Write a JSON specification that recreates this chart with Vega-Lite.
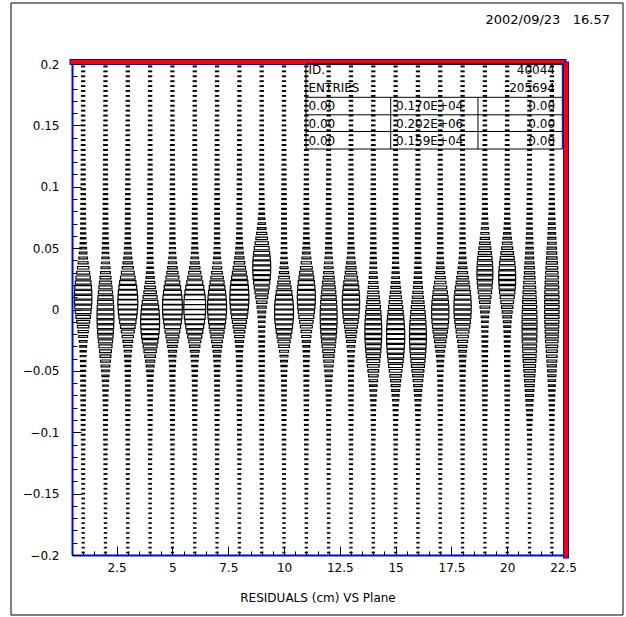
{
  "$schema": "https://vega.github.io/schema/vega-lite/v6.json",
  "width": 491,
  "height": 491,
  "autosize": "none",
  "padding": {"left": 72, "top": 64, "right": 63, "bottom": 62},
  "background": "#ffffff",
  "title": {
    "text": "2002/09/23\u00a0\u00a0\u00a016.57",
    "orient": "top",
    "anchor": "end",
    "frame": "group",
    "dx": 47,
    "offset": -34,
    "baseline": "alphabetic",
    "font": "DejaVu Sans",
    "fontSize": 13,
    "fontWeight": "normal",
    "color": "#000000"
  },
  "config": {
    "view": {"stroke": null},
    "axis": {
      "labelFont": "DejaVu Sans",
      "labelFontSize": 12,
      "labelColor": "#000000",
      "tickColor": "#000000",
      "titleFont": "DejaVu Sans",
      "titleFontSize": 12,
      "titleFontWeight": "normal",
      "titleColor": "#000000",
      "grid": false
    },
    "text": {"font": "DejaVu Sans", "fontSize": 12, "color": "#000000"}
  },
  "datasets": {
    "cells": [
      {"y":-0.198,"1":9,"2":9,"3":9,"4":9,"5":9,"6":9,"7":9,"8":9,"9":9,"10":9,"11":9,"12":9,"13":9,"14":9,"15":9,"16":9,"17":9,"18":9,"19":9,"20":9,"21":9,"22":9},
      {"y":-0.194,"1":9,"2":9,"3":9,"4":9,"5":9,"6":9,"7":9,"8":9,"9":9,"10":9,"11":9,"12":9,"13":9,"14":9,"15":9,"16":9,"17":9,"18":9,"19":9,"20":9,"21":9,"22":9},
      {"y":-0.19,"1":9,"2":9,"3":9,"4":9,"5":9,"6":9,"7":9,"8":9,"9":9,"10":9,"11":9,"12":9,"13":9,"14":9,"15":9,"16":9,"17":9,"18":9,"19":9,"20":9,"21":9,"22":9},
      {"y":-0.186,"1":9,"2":9,"3":9,"4":9,"5":9,"6":9,"7":9,"8":9,"9":9,"10":9,"11":9,"12":9,"13":9,"14":9,"15":9,"16":9,"17":9,"18":9,"19":9,"20":9,"21":9,"22":9},
      {"y":-0.182,"1":10,"2":10,"3":10,"4":10,"5":10,"6":10,"7":10,"8":10,"9":10,"10":10,"11":10,"12":10,"13":10,"14":10,"15":10,"16":10,"17":10,"18":10,"19":10,"20":10,"21":10,"22":10},
      {"y":-0.178,"1":10,"2":10,"3":10,"4":10,"5":10,"6":10,"7":10,"8":10,"9":10,"10":10,"11":10,"12":10,"13":10,"14":10,"15":10,"16":10,"17":10,"18":10,"19":10,"20":10,"21":10,"22":10},
      {"y":-0.174,"1":10,"2":10,"3":10,"4":10,"5":10,"6":10,"7":10,"8":10,"9":10,"10":10,"11":10,"12":10,"13":10,"14":10,"15":10,"16":10,"17":10,"18":10,"19":10,"20":10,"21":10,"22":10},
      {"y":-0.17,"1":11,"2":11,"3":11,"4":11,"5":11,"6":11,"7":11,"8":11,"9":11,"10":11,"11":11,"12":11,"13":11,"14":11,"15":11,"16":11,"17":11,"18":11,"19":11,"20":11,"21":11,"22":11},
      {"y":-0.166,"1":11,"2":11,"3":11,"4":11,"5":11,"6":11,"7":11,"8":11,"9":11,"10":11,"11":11,"12":11,"13":11,"14":11,"15":11,"16":11,"17":11,"18":11,"19":11,"20":11,"21":11,"22":11},
      {"y":-0.162,"1":11,"2":11,"3":11,"4":11,"5":11,"6":11,"7":11,"8":11,"9":11,"10":11,"11":11,"12":11,"13":11,"14":11,"15":11,"16":11,"17":11,"18":11,"19":11,"20":11,"21":11,"22":11},
      {"y":-0.158,"1":12,"2":12,"3":12,"4":12,"5":12,"6":12,"7":12,"8":12,"9":12,"10":12,"11":12,"12":12,"13":12,"14":12,"15":12,"16":12,"17":12,"18":12,"19":12,"20":12,"21":12,"22":12},
      {"y":-0.154,"1":12,"2":12,"3":12,"4":12,"5":12,"6":12,"7":12,"8":12,"9":12,"10":12,"11":12,"12":12,"13":12,"14":12,"15":12,"16":12,"17":12,"18":12,"19":12,"20":12,"21":12,"22":12},
      {"y":-0.15,"1":13,"2":13,"3":13,"4":13,"5":13,"6":13,"7":13,"8":13,"9":13,"10":13,"11":13,"12":13,"13":13,"14":13,"15":13,"16":13,"17":13,"18":13,"19":13,"20":13,"21":13,"22":13},
      {"y":-0.146,"1":14,"2":14,"3":14,"4":14,"5":14,"6":14,"7":14,"8":14,"9":14,"10":14,"11":14,"12":14,"13":14,"14":14,"15":14,"16":14,"17":14,"18":14,"19":14,"20":14,"21":14,"22":14},
      {"y":-0.142,"1":14,"2":14,"3":14,"4":14,"5":14,"6":14,"7":14,"8":14,"9":14,"10":14,"11":14,"12":14,"13":14,"14":14,"15":14,"16":14,"17":14,"18":14,"19":14,"20":14,"21":14,"22":14},
      {"y":-0.138,"1":15,"2":15,"3":15,"4":15,"5":15,"6":15,"7":15,"8":15,"9":15,"10":15,"11":15,"12":15,"13":15,"14":15,"15":15,"16":15,"17":15,"18":15,"19":15,"20":15,"21":15,"22":15},
      {"y":-0.134,"1":16,"2":16,"3":16,"4":16,"5":16,"6":16,"7":16,"8":16,"9":16,"10":16,"11":16,"12":16,"13":16,"14":16,"15":16,"16":16,"17":16,"18":16,"19":16,"20":16,"21":16,"22":16},
      {"y":-0.13,"1":17,"2":17,"3":17,"4":17,"5":17,"6":17,"7":17,"8":17,"9":17,"10":17,"11":17,"12":17,"13":17,"14":17,"15":17,"16":17,"17":17,"18":17,"19":17,"20":17,"21":17,"22":17},
      {"y":-0.126,"1":18,"2":18,"3":18,"4":18,"5":18,"6":18,"7":18,"8":18,"9":18,"10":18,"11":18,"12":18,"13":18,"14":18,"15":18,"16":18,"17":18,"18":18,"19":18,"20":18,"21":18,"22":18},
      {"y":-0.122,"1":19,"2":19,"3":19,"4":19,"5":19,"6":19,"7":19,"8":19,"9":19,"10":19,"11":19,"12":19,"13":19,"14":19,"15":19,"16":19,"17":19,"18":19,"19":19,"20":19,"21":20,"22":19},
      {"y":-0.118,"1":20,"2":20,"3":20,"4":20,"5":20,"6":20,"7":20,"8":20,"9":20,"10":20,"11":20,"12":20,"13":20,"14":20,"15":20,"16":20,"17":20,"18":20,"19":20,"20":20,"21":22,"22":20},
      {"y":-0.114,"1":21,"2":21,"3":21,"4":21,"5":21,"6":21,"7":21,"8":21,"9":21,"10":21,"11":21,"12":21,"13":21,"14":21,"15":21,"16":21,"17":21,"18":21,"19":21,"20":21,"21":24,"22":21},
      {"y":-0.11,"1":23,"2":23,"3":23,"4":23,"5":23,"6":23,"7":23,"8":23,"9":23,"10":23,"11":23,"12":23,"13":23,"14":23,"15":23,"16":23,"17":23,"18":23,"19":23,"20":23,"21":27,"22":23},
      {"y":-0.106,"1":24,"2":24,"3":24,"4":24,"5":24,"6":24,"7":24,"8":24,"9":24,"10":24,"11":24,"12":24,"13":24,"14":24,"15":24,"16":24,"17":24,"18":24,"19":24,"20":24,"21":30,"22":25},
      {"y":-0.102,"1":25,"2":25,"3":25,"4":25,"5":25,"6":25,"7":25,"8":25,"9":25,"10":25,"11":25,"12":25,"13":25,"14":25,"15":26,"16":26,"17":25,"18":25,"19":25,"20":25,"21":34,"22":27},
      {"y":-0.098,"1":27,"2":27,"3":27,"4":27,"5":27,"6":27,"7":27,"8":27,"9":27,"10":27,"11":27,"12":27,"13":27,"14":28,"15":29,"16":28,"17":27,"18":27,"19":27,"20":27,"21":39,"22":30},
      {"y":-0.094,"1":28,"2":28,"3":28,"4":28,"5":28,"6":28,"7":28,"8":28,"9":28,"10":28,"11":28,"12":28,"13":28,"14":29,"15":31,"16":30,"17":28,"18":28,"19":28,"20":28,"21":45,"22":32},
      {"y":-0.09,"1":30,"2":30,"3":30,"4":30,"5":30,"6":30,"7":30,"8":30,"9":30,"10":30,"11":30,"12":30,"13":30,"14":32,"15":35,"16":34,"17":30,"18":30,"19":30,"20":30,"21":53,"22":36},
      {"y":-0.086,"1":32,"2":33,"3":32,"4":32,"5":32,"6":32,"7":32,"8":32,"9":32,"10":32,"11":32,"12":33,"13":32,"14":36,"15":41,"16":39,"17":32,"18":32,"19":32,"20":32,"21":63,"22":40},
      {"y":-0.082,"1":33,"2":34,"3":33,"4":33,"5":33,"6":33,"7":33,"8":33,"9":33,"10":33,"11":33,"12":34,"13":33,"14":40,"15":47,"16":45,"17":33,"18":33,"19":33,"20":33,"21":73,"22":44},
      {"y":-0.078,"1":35,"2":37,"3":35,"4":35,"5":35,"6":35,"7":35,"8":35,"9":35,"10":35,"11":35,"12":37,"13":35,"14":47,"15":58,"16":55,"17":35,"18":35,"19":35,"20":35,"21":87,"22":51},
      {"y":-0.074,"1":39,"2":43,"3":39,"4":39,"5":39,"6":39,"7":39,"8":39,"9":39,"10":39,"11":39,"12":43,"13":39,"14":59,"15":76,"16":70,"17":39,"18":39,"19":39,"20":39,"21":105,"22":60},
      {"y":-0.07,"1":40,"2":47,"3":40,"4":41,"5":40,"6":40,"7":40,"8":40,"9":40,"10":40,"11":40,"12":47,"13":40,"14":71,"15":96,"16":87,"17":40,"18":40,"19":40,"20":40,"21":123,"22":68},
      {"y":-0.066,"1":42,"2":54,"3":42,"4":45,"5":42,"6":42,"7":42,"8":42,"9":42,"10":42,"11":42,"12":54,"13":42,"14":89,"15":123,"16":111,"17":42,"18":42,"19":42,"20":42,"21":145,"22":79},
      {"y":-0.062,"1":44,"2":64,"3":44,"4":50,"5":44,"6":44,"7":44,"8":44,"9":44,"10":45,"11":44,"12":64,"13":44,"14":113,"15":159,"16":141,"17":45,"18":44,"19":44,"20":44,"21":169,"22":92},
      {"y":-0.058,"1":45,"2":76,"3":45,"4":57,"5":46,"6":47,"7":46,"8":45,"9":45,"10":48,"11":45,"12":76,"13":45,"14":142,"15":202,"16":179,"17":47,"18":46,"19":45,"20":45,"21":195,"22":106},
      {"y":-0.054,"1":47,"2":94,"3":48,"4":70,"5":50,"6":51,"7":50,"8":47,"9":47,"10":53,"11":47,"12":94,"13":48,"14":181,"15":255,"16":224,"17":52,"18":49,"19":47,"20":47,"21":223,"22":124},
      {"y":-0.05,"1":52,"2":120,"3":54,"4":93,"5":58,"6":59,"7":57,"8":52,"9":51,"10":63,"11":52,"12":120,"13":53,"14":228,"15":318,"16":278,"17":61,"18":56,"19":51,"20":51,"21":255,"22":146},
      {"y":-0.046,"1":54,"2":149,"3":59,"4":122,"5":66,"6":69,"7":64,"8":55,"9":52,"10":75,"11":55,"12":149,"13":57,"14":279,"15":383,"16":334,"17":71,"18":62,"19":52,"20":52,"21":286,"22":167},
      {"y":-0.042,"1":59,"2":188,"3":68,"4":166,"5":80,"6":86,"7":77,"8":60,"9":54,"10":96,"11":59,"12":188,"13":64,"14":336,"15":451,"16":392,"17":88,"18":73,"19":54,"20":54,"21":317,"22":192},
      {"y":-0.038,"1":65,"2":232,"3":81,"4":225,"5":101,"6":112,"7":97,"8":67,"9":55,"10":125,"11":66,"12":232,"13":74,"14":393,"15":516,"16":447,"17":112,"18":89,"19":55,"20":55,"21":346,"22":218},
      {"y":-0.034,"1":75,"2":283,"3":102,"4":300,"5":133,"6":151,"7":126,"8":79,"9":56,"10":168,"11":77,"12":283,"13":90,"14":448,"15":573,"16":496,"17":148,"18":113,"19":56,"20":57,"21":373,"22":245},
      {"y":-0.03,"1":93,"2":340,"3":135,"4":388,"5":182,"6":211,"7":170,"8":100,"9":58,"10":228,"11":95,"12":340,"13":115,"14":498,"15":620,"16":535,"17":197,"18":150,"19":59,"20":60,"21":398,"22":273},
      {"y":-0.026,"1":119,"2":399,"3":185,"4":485,"5":249,"6":292,"7":231,"8":131,"9":62,"10":305,"11":124,"12":399,"13":153,"14":538,"15":651,"16":563,"17":260,"18":200,"19":63,"20":66,"21":420,"22":303},
      {"y":-0.022,"1":156,"2":454,"3":250,"4":576,"5":331,"6":394,"7":306,"8":174,"9":65,"10":392,"11":162,"12":454,"13":201,"14":564,"15":662,"16":572,"17":332,"18":261,"19":66,"20":72,"21":435,"22":330},
      {"y":-0.018,"1":203,"2":502,"3":331,"4":653,"5":427,"6":512,"7":392,"8":232,"9":67,"10":486,"11":214,"12":502,"13":261,"14":572,"15":652,"16":564,"17":409,"18":332,"19":70,"20":80,"21":444,"22":354},
      {"y":-0.014,"1":266,"2":540,"3":428,"4":705,"5":532,"6":641,"7":487,"8":307,"9":74,"10":577,"11":281,"12":540,"13":333,"14":565,"15":625,"16":540,"17":484,"18":410,"19":79,"20":95,"21":448,"22":376},
      {"y":-0.01,"1":338,"2":565,"3":532,"4":723,"5":632,"6":764,"7":577,"8":393,"9":84,"10":654,"11":358,"12":565,"13":410,"14":540,"15":580,"16":503,"17":546,"18":484,"19":91,"20":118,"21":445,"22":394},
      {"y":-0.006,"1":417,"2":574,"3":633,"4":706,"5":717,"6":870,"7":655,"8":488,"9":101,"10":706,"11":443,"12":574,"13":485,"14":504,"15":525,"16":456,"17":589,"18":547,"19":112,"20":152,"21":437,"22":408},
      {"y":-0.002,"1":492,"2":566,"3":717,"4":655,"5":774,"6":940,"7":706,"8":578,"9":127,"10":724,"11":524,"12":566,"13":547,"14":456,"15":461,"16":402,"17":604,"18":589,"19":141,"20":196,"21":423,"22":416},
      {"y":0.002,"1":556,"2":541,"3":774,"4":578,"5":794,"6":964,"7":724,"8":655,"9":164,"10":706,"11":592,"12":541,"13":589,"14":402,"15":395,"16":346,"17":589,"18":604,"19":180,"20":254,"21":404,"22":419},
      {"y":0.006,"1":599,"2":504,"3":794,"4":488,"5":774,"6":940,"7":706,"8":706,"9":216,"10":655,"11":638,"12":504,"13":604,"14":346,"15":331,"16":291,"17":547,"18":589,"19":230,"20":322,"21":381,"22":416},
      {"y":0.01,"1":613,"2":455,"3":773,"4":393,"5":716,"6":869,"7":654,"8":723,"9":281,"10":577,"11":653,"12":455,"13":588,"14":290,"15":271,"16":240,"17":484,"18":546,"19":288,"20":394,"21":354,"22":407},
      {"y":0.014,"1":598,"2":401,"3":716,"4":307,"5":632,"6":764,"7":577,"8":705,"9":358,"10":487,"11":637,"12":401,"13":546,"14":240,"15":220,"16":197,"17":410,"18":484,"19":352,"20":464,"21":326,"22":394},
      {"y":0.018,"1":554,"2":344,"3":631,"4":232,"5":531,"6":640,"7":486,"8":653,"9":441,"10":392,"11":590,"12":344,"13":483,"14":196,"15":177,"16":159,"17":332,"18":409,"19":413,"20":523,"21":296,"22":375},
      {"y":0.022,"1":490,"2":289,"3":531,"4":174,"5":427,"6":512,"7":392,"8":576,"9":522,"10":306,"11":522,"12":289,"13":409,"14":159,"15":143,"16":131,"17":261,"18":332,"19":465,"20":563,"21":266,"22":354},
      {"y":0.026,"1":414,"2":238,"3":426,"4":131,"5":330,"6":393,"7":305,"8":485,"9":589,"10":231,"11":440,"12":238,"13":331,"14":130,"15":117,"16":108,"17":200,"18":260,"19":499,"20":576,"21":237,"22":329},
      {"y":0.03,"1":335,"2":194,"3":329,"4":102,"5":248,"6":291,"7":230,"8":390,"9":634,"10":172,"11":355,"12":194,"13":259,"14":107,"15":97,"16":91,"17":152,"18":199,"19":510,"20":561,"21":210,"22":302},
      {"y":0.034,"1":261,"2":155,"3":246,"4":81,"5":182,"6":211,"7":170,"8":302,"9":648,"10":128,"11":276,"12":155,"13":197,"14":89,"15":81,"16":78,"17":115,"18":150,"19":496,"20":519,"21":183,"22":273},
      {"y":0.038,"1":198,"2":126,"3":181,"4":69,"5":134,"6":152,"7":127,"8":227,"9":631,"10":99,"11":209,"12":126,"13":149,"14":77,"15":71,"16":69,"17":91,"18":114,"19":460,"20":458,"21":160,"22":246},
      {"y":0.042,"1":150,"2":103,"3":133,"4":62,"5":102,"6":113,"7":98,"8":168,"9":584,"10":79,"11":156,"12":103,"13":113,"14":68,"15":65,"16":63,"17":75,"18":90,"19":407,"20":387,"21":139,"22":219},
      {"y":0.046,"1":112,"2":85,"3":100,"4":57,"5":80,"6":86,"7":77,"8":124,"9":514,"10":66,"11":117,"12":85,"13":88,"14":61,"15":59,"16":58,"17":64,"18":73,"19":343,"20":312,"21":120,"22":192},
      {"y":0.05,"1":90,"2":75,"3":81,"4":56,"5":69,"6":72,"7":67,"8":97,"9":434,"10":61,"11":92,"12":75,"13":74,"14":59,"15":58,"16":57,"17":60,"18":65,"19":280,"20":245,"21":107,"22":170},
      {"y":0.054,"1":72,"2":65,"3":67,"4":53,"5":60,"6":61,"7":59,"8":76,"9":348,"10":56,"11":74,"12":65,"13":63,"14":55,"15":55,"16":54,"17":55,"18":58,"19":219,"20":185,"21":93,"22":148},
      {"y":0.058,"1":61,"2":58,"3":58,"4":51,"5":54,"6":55,"7":54,"8":63,"9":269,"10":52,"11":62,"12":58,"13":56,"14":52,"15":52,"16":52,"17":52,"18":53,"19":167,"20":139,"21":82,"22":128},
      {"y":0.062,"1":55,"2":54,"3":53,"4":50,"5":51,"6":52,"7":51,"8":56,"9":202,"10":50,"11":55,"12":54,"13":52,"14":51,"15":50,"16":50,"17":50,"18":51,"19":127,"20":105,"21":73,"22":111},
      {"y":0.066,"1":50,"2":50,"3":49,"4":48,"5":48,"6":48,"7":48,"8":51,"9":148,"10":48,"11":51,"12":50,"13":49,"14":48,"15":48,"16":48,"17":48,"18":48,"19":96,"20":80,"21":65,"22":96},
      {"y":0.07,"1":47,"2":47,"3":46,"4":46,"5":46,"6":46,"7":46,"8":47,"9":109,"10":46,"11":47,"12":47,"13":46,"14":46,"15":46,"16":46,"17":46,"18":46,"19":74,"20":64,"21":58,"22":83},
      {"y":0.074,"1":45,"2":46,"3":45,"4":45,"5":45,"6":45,"7":45,"8":45,"9":82,"10":45,"11":45,"12":46,"13":45,"14":45,"15":45,"16":45,"17":45,"18":45,"19":61,"20":55,"21":54,"22":73},
      {"y":0.078,"1":43,"2":43,"3":43,"4":43,"5":43,"6":43,"7":43,"8":43,"9":64,"10":43,"11":43,"12":43,"13":43,"14":43,"15":43,"16":43,"17":43,"18":43,"19":51,"20":48,"21":49,"22":64},
      {"y":0.082,"1":43,"2":43,"3":43,"4":43,"5":43,"6":43,"7":43,"8":43,"9":54,"10":43,"11":43,"12":43,"13":43,"14":43,"15":43,"16":43,"17":43,"18":43,"19":47,"20":45,"21":47,"22":59},
      {"y":0.086,"1":42,"2":42,"3":42,"4":42,"5":42,"6":42,"7":42,"8":42,"9":47,"10":42,"11":42,"12":42,"13":42,"14":42,"15":42,"16":42,"17":42,"18":42,"19":44,"20":43,"21":45,"22":53},
      {"y":0.09,"1":40,"2":40,"3":40,"4":40,"5":40,"6":40,"7":40,"8":40,"9":43,"10":40,"11":40,"12":40,"13":40,"14":40,"15":40,"16":40,"17":40,"18":40,"19":41,"20":40,"21":42,"22":48},
      {"y":0.094,"1":38,"2":38,"3":38,"4":38,"5":38,"6":38,"7":38,"8":38,"9":39,"10":38,"11":38,"12":38,"13":38,"14":38,"15":38,"16":38,"17":38,"18":38,"19":38,"20":38,"21":39,"22":44},
      {"y":0.098,"1":37,"2":37,"3":37,"4":37,"5":37,"6":37,"7":37,"8":37,"9":37,"10":37,"11":37,"12":37,"13":37,"14":37,"15":37,"16":37,"17":37,"18":37,"19":37,"20":37,"21":37,"22":41},
      {"y":0.102,"1":35,"2":35,"3":35,"4":35,"5":35,"6":35,"7":35,"8":35,"9":35,"10":35,"11":35,"12":35,"13":35,"14":35,"15":35,"16":35,"17":35,"18":35,"19":35,"20":35,"21":35,"22":38},
      {"y":0.106,"1":34,"2":34,"3":34,"4":34,"5":34,"6":34,"7":34,"8":34,"9":34,"10":34,"11":34,"12":34,"13":34,"14":34,"15":34,"16":34,"17":34,"18":34,"19":34,"20":34,"21":34,"22":36},
      {"y":0.11,"1":33,"2":33,"3":33,"4":33,"5":33,"6":33,"7":33,"8":33,"9":33,"10":33,"11":33,"12":33,"13":33,"14":33,"15":33,"16":33,"17":33,"18":33,"19":33,"20":33,"21":33,"22":34},
      {"y":0.114,"1":31,"2":31,"3":31,"4":31,"5":31,"6":31,"7":31,"8":31,"9":31,"10":31,"11":31,"12":31,"13":31,"14":31,"15":31,"16":31,"17":31,"18":31,"19":31,"20":31,"21":31,"22":31},
      {"y":0.118,"1":30,"2":30,"3":30,"4":30,"5":30,"6":30,"7":30,"8":30,"9":30,"10":30,"11":30,"12":30,"13":30,"14":30,"15":30,"16":30,"17":30,"18":30,"19":30,"20":30,"21":30,"22":30},
      {"y":0.122,"1":29,"2":29,"3":29,"4":29,"5":29,"6":29,"7":29,"8":29,"9":29,"10":29,"11":29,"12":29,"13":29,"14":29,"15":29,"16":29,"17":29,"18":29,"19":29,"20":29,"21":29,"22":29},
      {"y":0.126,"1":28,"2":28,"3":28,"4":28,"5":28,"6":28,"7":28,"8":28,"9":28,"10":28,"11":28,"12":28,"13":28,"14":28,"15":28,"16":28,"17":28,"18":28,"19":28,"20":28,"21":28,"22":28},
      {"y":0.13,"1":27,"2":27,"3":27,"4":27,"5":27,"6":27,"7":27,"8":27,"9":27,"10":27,"11":27,"12":27,"13":27,"14":27,"15":27,"16":27,"17":27,"18":27,"19":27,"20":27,"21":27,"22":27},
      {"y":0.134,"1":26,"2":26,"3":26,"4":26,"5":26,"6":26,"7":26,"8":26,"9":26,"10":26,"11":26,"12":26,"13":26,"14":26,"15":26,"16":26,"17":26,"18":26,"19":26,"20":26,"21":26,"22":26},
      {"y":0.138,"1":25,"2":25,"3":25,"4":25,"5":25,"6":25,"7":25,"8":25,"9":25,"10":25,"11":25,"12":25,"13":25,"14":25,"15":25,"16":25,"17":25,"18":25,"19":25,"20":25,"21":25,"22":25},
      {"y":0.142,"1":24,"2":24,"3":24,"4":24,"5":24,"6":24,"7":24,"8":24,"9":24,"10":24,"11":24,"12":24,"13":24,"14":24,"15":24,"16":24,"17":24,"18":24,"19":24,"20":24,"21":24,"22":24},
      {"y":0.146,"1":24,"2":24,"3":24,"4":24,"5":24,"6":24,"7":24,"8":24,"9":24,"10":24,"11":24,"12":24,"13":24,"14":24,"15":24,"16":24,"17":24,"18":24,"19":24,"20":24,"21":24,"22":24},
      {"y":0.15,"1":23,"2":23,"3":23,"4":23,"5":23,"6":23,"7":23,"8":23,"9":23,"10":23,"11":23,"12":23,"13":23,"14":23,"15":23,"16":23,"17":23,"18":23,"19":23,"20":23,"21":23,"22":23},
      {"y":0.154,"1":22,"2":22,"3":22,"4":22,"5":22,"6":22,"7":22,"8":22,"9":22,"10":22,"11":22,"12":22,"13":22,"14":22,"15":22,"16":22,"17":22,"18":22,"19":22,"20":22,"21":22,"22":22},
      {"y":0.158,"1":22,"2":22,"3":22,"4":22,"5":22,"6":22,"7":22,"8":22,"9":22,"10":22,"11":22,"12":22,"13":22,"14":22,"15":22,"16":22,"17":22,"18":22,"19":22,"20":22,"21":22,"22":22},
      {"y":0.162,"1":21,"2":21,"3":21,"4":21,"5":21,"6":21,"7":21,"8":21,"9":21,"10":21,"11":21,"12":21,"13":21,"14":21,"15":21,"16":21,"17":21,"18":21,"19":21,"20":21,"21":21,"22":21},
      {"y":0.166,"1":21,"2":21,"3":21,"4":21,"5":21,"6":21,"7":21,"8":21,"9":21,"10":21,"11":21,"12":21,"13":21,"14":21,"15":21,"16":21,"17":21,"18":21,"19":21,"20":21,"21":21,"22":21},
      {"y":0.17,"1":21,"2":21,"3":21,"4":21,"5":21,"6":21,"7":21,"8":21,"9":21,"10":21,"11":21,"12":21,"13":21,"14":21,"15":21,"16":21,"17":21,"18":21,"19":21,"20":21,"21":21,"22":21},
      {"y":0.174,"1":20,"2":20,"3":20,"4":20,"5":20,"6":20,"7":20,"8":20,"9":20,"10":20,"11":20,"12":20,"13":20,"14":20,"15":20,"16":20,"17":20,"18":20,"19":20,"20":20,"21":20,"22":20},
      {"y":0.178,"1":20,"2":20,"3":20,"4":20,"5":20,"6":20,"7":20,"8":20,"9":20,"10":20,"11":20,"12":20,"13":20,"14":20,"15":20,"16":20,"17":20,"18":20,"19":20,"20":20,"21":20,"22":20},
      {"y":0.182,"1":20,"2":20,"3":20,"4":20,"5":20,"6":20,"7":20,"8":20,"9":20,"10":20,"11":20,"12":20,"13":20,"14":20,"15":20,"16":20,"17":20,"18":20,"19":20,"20":20,"21":20,"22":20},
      {"y":0.186,"1":19,"2":19,"3":19,"4":19,"5":19,"6":19,"7":19,"8":19,"9":19,"10":19,"11":19,"12":19,"13":19,"14":19,"15":19,"16":19,"17":19,"18":19,"19":19,"20":19,"21":19,"22":19},
      {"y":0.19,"1":19,"2":19,"3":19,"4":19,"5":19,"6":19,"7":19,"8":19,"9":19,"10":19,"11":19,"12":19,"13":19,"14":19,"15":19,"16":19,"17":19,"18":19,"19":19,"20":19,"21":19,"22":19},
      {"y":0.194,"1":19,"2":19,"3":19,"4":19,"5":19,"6":19,"7":19,"8":19,"9":19,"10":19,"11":19,"12":19,"13":19,"14":19,"15":19,"16":19,"17":19,"18":19,"19":19,"20":19,"21":19,"22":19},
      {"y":0.198,"1":19,"2":19,"3":19,"4":19,"5":19,"6":19,"7":19,"8":19,"9":19,"10":19,"11":19,"12":19,"13":19,"14":19,"15":19,"16":19,"17":19,"18":19,"19":19,"20":19,"21":19,"22":19}
    ],
    "stats": [
      {"col": "a", "lines": ["ID.", "ENTRIES", "0.00", "0.00", "0.00"]},
      {"col": "b", "lines": ["0.170E+04", "0.202E+06", "0.159E+04"]},
      {"col": "c", "lines": ["40044", "205694", "0.00", "0.00", "0.00"]}
    ],
    "one": [{}]
  },
  "layer": [
    {
      "data": {"name": "cells"},
      "transform": [{"fold": ["1","2","3","4","5","6","7","8","9","10","11","12","13","14","15","16","17","18","19","20","21","22"], "as": ["plane", "n"]}],
      "mark": {"type": "point", "shape": "M-1,-0.22H1V0.22H-1Z", "filled": false, "color": "#000000", "strokeWidth": 1.2, "opacity": 1},
      "encoding": {
        "x": {
          "field": "plane", "type": "quantitative",
          "scale": {"domain": [0.5, 22.5], "nice": false, "zero": false},
          "axis": {
            "orient": "bottom",
            "values": [2.5, 5, 7.5, 10, 12.5, 15, 17.5, 20, 22.5],
            "format": ".1~f",
            "domainColor": "#0000ff", "domainWidth": 2,
            "tickSize": -9, "tickWidth": 1,
            "labelPadding": 16, "labelFlush": false, "labelOverlap": false,
            "title": "RESIDUALS (cm) VS Plane", "titlePadding": 19
          }
        },
        "y": {
          "field": "y", "type": "quantitative",
          "scale": {"domain": [-0.2, 0.2], "nice": false, "zero": false},
          "axis": {
            "orient": "left",
            "values": [-0.2, -0.15, -0.1, -0.05, 0, 0.05, 0.1, 0.15, 0.2],
            "format": ".2~f",
            "domainColor": "#0000ff", "domainWidth": 2,
            "tickSize": -9, "tickWidth": 1,
            "labelPadding": 22, "labelFlush": false, "labelOverlap": false,
            "title": null
          }
        },
        "size": {"field": "n", "type": "quantitative", "scale": {"domain": [0, 1000], "range": [0, 498]}, "legend": null}
      }
    },
    {
      "data": {"name": "cells"},
      "transform": [{"filter": "datum.y > 0.197"}, {"fold": ["1"], "as": ["plane", "n"]}],
      "mark": {"type": "point", "opacity": 0},
      "encoding": {
        "x": {"field": "plane", "type": "quantitative", "axis": {"orient": "top", "ticks": false, "labels": false, "title": null, "domainColor": "#0000ff", "domainWidth": 6, "domainCap": "square", "offset": 2.5}},
        "y": {"field": "y", "type": "quantitative", "axis": {"orient": "right", "ticks": false, "labels": false, "title": null, "domainColor": "#0000ff", "domainWidth": 6, "domainCap": "square", "offset": 2.5}}
      }
    },
    {
      "data": {"name": "cells"},
      "transform": [{"filter": "datum.y > 0.197"}, {"fold": ["1"], "as": ["plane", "n"]}],
      "mark": {"type": "point", "opacity": 0},
      "encoding": {
        "x": {"field": "plane", "type": "quantitative", "axis": {"orient": "top", "ticks": false, "labels": false, "title": null, "domainColor": "#ff0000", "domainWidth": 4, "domainCap": "square", "offset": 2.5}},
        "y": {"field": "y", "type": "quantitative", "axis": {"orient": "right", "ticks": false, "labels": false, "title": null, "domainColor": "#ff0000", "domainWidth": 4, "domainCap": "square", "offset": 2.5}}
      }
    },
    {
      "data": {"name": "cells"},
      "transform": [{"filter": "datum.y > 0.197"}, {"fold": ["1"], "as": ["plane", "n"]}],
      "mark": {"type": "point", "opacity": 0},
      "encoding": {
        "x": {"field": "plane", "type": "quantitative", "axis": {"orient": "bottom", "domain": false, "labels": false, "title": null, "tickSize": -4, "tickWidth": 1,
          "values": [0.5,1,1.5,2,2.5,3,3.5,4,4.5,5,5.5,6,6.5,7,7.5,8,8.5,9,9.5,10,10.5,11,11.5,12,12.5,13,13.5,14,14.5,15,15.5,16,16.5,17,17.5,18,18.5,19,19.5,20,20.5,21,21.5,22,22.5]}},
        "y": {"field": "y", "type": "quantitative", "axis": {"orient": "left", "domain": false, "labels": false, "title": null, "tickSize": -5, "tickWidth": 1,
          "values": [-0.2,-0.19,-0.18,-0.17,-0.16,-0.15,-0.14,-0.13,-0.12,-0.11,-0.1,-0.09,-0.08,-0.07,-0.06,-0.05,-0.04,-0.03,-0.02,-0.01,0,0.01,0.02,0.03,0.04,0.05,0.06,0.07,0.08,0.09,0.1,0.11,0.12,0.13,0.14,0.15,0.16,0.17,0.18,0.19,0.2]}}
      }
    },
    {
      "data": {"name": "one"},
      "mark": {"type": "rect", "filled": false, "color": "#000000", "strokeWidth": 1, "clip": false},
      "encoding": {
        "x": {"datum": -2.233, "type": "quantitative", "axis": null},
        "x2": {"datum": 25.189},
        "y": {"datum": 0.24969, "type": "quantitative", "axis": null},
        "y2": {"datum": -0.24888}
      }
    },
    {
      "data": {"name": "one"},
      "mark": {"type": "rect", "filled": false, "color": "#000000", "strokeWidth": 1},
      "encoding": {
        "x": {"datum": 10.985, "type": "quantitative", "axis": null},
        "x2": {"datum": 22.47},
        "y": {"datum": 0.2, "type": "quantitative", "axis": null},
        "y2": {"datum": 0.13075}
      }
    },
    {
      "data": {"name": "one"},
      "mark": {"type": "rule", "color": "#000000", "strokeWidth": 1},
      "encoding": {
        "x": {"datum": 10.985, "type": "quantitative", "axis": null},
        "x2": {"datum": 22.47},
        "y": {"datum": 0.17287, "type": "quantitative", "axis": null}
      }
    },
    {
      "data": {"name": "one"},
      "mark": {"type": "rule", "color": "#000000", "strokeWidth": 1},
      "encoding": {
        "x": {"datum": 10.985, "type": "quantitative", "axis": null},
        "x2": {"datum": 22.47},
        "y": {"datum": 0.15862, "type": "quantitative", "axis": null}
      }
    },
    {
      "data": {"name": "one"},
      "mark": {"type": "rule", "color": "#000000", "strokeWidth": 1},
      "encoding": {
        "x": {"datum": 10.985, "type": "quantitative", "axis": null},
        "x2": {"datum": 22.47},
        "y": {"datum": 0.14501, "type": "quantitative", "axis": null}
      }
    },
    {
      "data": {"name": "one"},
      "mark": {"type": "rule", "color": "#000000", "strokeWidth": 1},
      "encoding": {
        "x": {"datum": 14.78, "type": "quantitative", "axis": null},
        "y": {"datum": 0.17287, "type": "quantitative", "axis": null},
        "y2": {"datum": 0.13075}
      }
    },
    {
      "data": {"name": "one"},
      "mark": {"type": "rule", "color": "#000000", "strokeWidth": 1},
      "encoding": {
        "x": {"datum": 18.69, "type": "quantitative", "axis": null},
        "y": {"datum": 0.17287, "type": "quantitative", "axis": null},
        "y2": {"datum": 0.13075}
      }
    },
    {
      "data": {"name": "stats"},
      "transform": [{"filter": "datum.col === 'a'"}],
      "mark": {"type": "text", "align": "left", "baseline": "top", "lineHeight": 17.75, "fontSize": 12},
      "encoding": {
        "x": {"datum": 11.097, "type": "quantitative", "axis": null},
        "y": {"datum": 0.19886, "type": "quantitative", "axis": null},
        "text": {"field": "lines"}
      }
    },
    {
      "data": {"name": "stats"},
      "transform": [{"filter": "datum.col === 'b'"}],
      "mark": {"type": "text", "align": "left", "baseline": "top", "lineHeight": 17.75, "fontSize": 12},
      "encoding": {
        "x": {"datum": 15.017, "type": "quantitative", "axis": null},
        "y": {"datum": 0.16994, "type": "quantitative", "axis": null},
        "text": {"field": "lines"}
      }
    },
    {
      "data": {"name": "stats"},
      "transform": [{"filter": "datum.col === 'c'"}],
      "mark": {"type": "text", "align": "right", "baseline": "top", "lineHeight": 17.75, "fontSize": 12},
      "encoding": {
        "x": {"datum": 22.142, "type": "quantitative", "axis": null},
        "y": {"datum": 0.19886, "type": "quantitative", "axis": null},
        "text": {"field": "lines"}
      }
    }
  ],
  "resolve": {"axis": {"x": "independent", "y": "independent"}}
}
